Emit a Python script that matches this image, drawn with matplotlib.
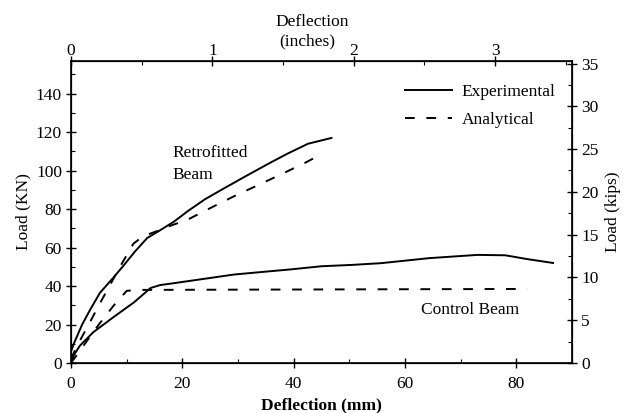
import matplotlib
matplotlib.use("Agg")
import matplotlib.pyplot as plt
from matplotlib.ticker import MultipleLocator
import numpy as np

plt.rcParams['font.family'] = ['Liberation Serif', 'DejaVu Serif']

# ---- data (deflection mm, load kN) ----
retro_exp_x = [0, 0.5, 2, 3.5, 5.2, 7.5, 9.4, 11.5, 13.7, 16, 18.5, 21, 24, 27, 31, 35.4, 39, 42.6, 46.8]
retro_exp_y = [6, 10, 20, 28, 36.5, 44, 50.5, 58, 65, 69, 73.5, 79, 85, 90, 96.5, 103.5, 109, 114, 117]

retro_ana_x = [0, 1, 3, 5, 7, 9, 11.2, 13, 15.5, 18, 21, 25, 29.3, 34, 38.4, 42, 45.3]
retro_ana_y = [2, 8.5, 19, 30, 40.5, 51, 62, 66, 68.6, 71.5, 74.6, 80.5, 86.7, 93, 99, 104, 109]

ctrl_exp_x = [0, 0.5, 1.6, 4, 7.7, 11.3, 14.3, 16, 18.5, 23.3, 29.3, 35, 39.6, 45, 50.5, 55.7, 64.3, 73, 78, 82, 86.6]
ctrl_exp_y = [0, 4, 9, 16, 24, 31.5, 39, 40.5, 41.5, 43.5, 46, 47.5, 48.7, 50.3, 51, 51.9, 54.5, 56.2, 56, 54, 52]

ctrl_ana_x = [0, 2, 5, 7.7, 10, 12, 82]
ctrl_ana_y = [0, 8, 20, 30, 37.5, 38, 38.5]

x_ticks_mm = [0, 20, 40, 60, 80]
y_ticks_kn = [0, 20, 40, 60, 80, 100, 120, 140]
x_ticks_in = [0, 1, 2, 3]
y_ticks_kips = [0, 5, 10, 15, 20, 25, 30, 35]

XMAX_MM = 90
YMAX_KN = 157
MM_PER_IN = 25.4
KN_PER_KIP = 4.448

fs = 12.5
lw = 1.4
dash = (0, (5, 6))

fig = plt.figure(figsize=(6.25, 4.13), dpi=100)
ax = fig.add_axes([71/625, 1-363/413, (572-71)/625, (363-61)/413])

l1, = ax.plot(retro_exp_x, retro_exp_y, color='black', lw=lw, solid_joinstyle='round')
l2, = ax.plot(retro_ana_x, retro_ana_y, color='black', lw=lw, linestyle=dash)
ax.plot(ctrl_exp_x, ctrl_exp_y, color='black', lw=lw, solid_joinstyle='round')
ax.plot(ctrl_ana_x, ctrl_ana_y, color='black', lw=lw, linestyle=dash)

ax.set_xlim(0, XMAX_MM)
ax.set_ylim(0, YMAX_KN)
ax.set_xticks(x_ticks_mm)
ax.set_yticks(y_ticks_kn)
ax.xaxis.set_minor_locator(MultipleLocator(10))
ax.yaxis.set_minor_locator(MultipleLocator(10))
ax.tick_params(which='major', direction='inout', length=7, width=1, labelsize=fs)
ax.tick_params(which='minor', direction='in', length=3, width=0.8)
ax.tick_params(axis='x', which='major', pad=6)
ax.tick_params(axis='y', which='major', pad=3)
ax.set_xlabel('Deflection (mm)', fontsize=fs, fontweight='bold', labelpad=4)
ax.set_ylabel('Load (KN)', fontsize=fs, labelpad=3)

for s in ax.spines.values():
    s.set_linewidth(1.2)

# right axis (kips)
axr = ax.twinx()
axr.set_ylim(0, YMAX_KN / KN_PER_KIP)
axr.set_yticks(y_ticks_kips)
axr.yaxis.set_minor_locator(MultipleLocator(2.5))
axr.tick_params(which='major', direction='inout', length=7, width=1, labelsize=fs, pad=3)
axr.tick_params(which='minor', direction='in', length=3, width=0.8)
axr.set_ylabel('Load (kips)', fontsize=fs, labelpad=5)

# top axis (inches)
axt = ax.twiny()
axt.set_xlim(0, XMAX_MM / MM_PER_IN)
axt.set_xticks(x_ticks_in)
axt.xaxis.set_minor_locator(MultipleLocator(0.5))
axt.tick_params(which='major', direction='inout', length=7, width=1, labelsize=fs, pad=-2)
axt.tick_params(which='minor', direction='in', length=3, width=0.8)
fig.text(312/625, 1-22/413, 'Deflection', fontsize=fs, ha='center', va='center')
fig.text(307/625, 1-41/413, '(inches)', fontsize=fs, ha='center', va='center')

ax.text(18.2, 109.3, 'Retrofitted', fontsize=fs, ha='left', va='center')
ax.text(18.2, 97.9, 'Beam', fontsize=fs, ha='left', va='center')
ax.text(62.9, 27.6, 'Control Beam', fontsize=fs, ha='left', va='center')

leg = fig.legend([l1, l2], ['Experimental', 'Analytical'], loc='center left',
                 bbox_to_anchor=(405/625, 1-106/413), frameon=False, fontsize=fs,
                 handlelength=2.7, handletextpad=0.55, labelspacing=0.7, borderpad=0,
                 borderaxespad=0)

fig.savefig('out.png', dpi=100)
